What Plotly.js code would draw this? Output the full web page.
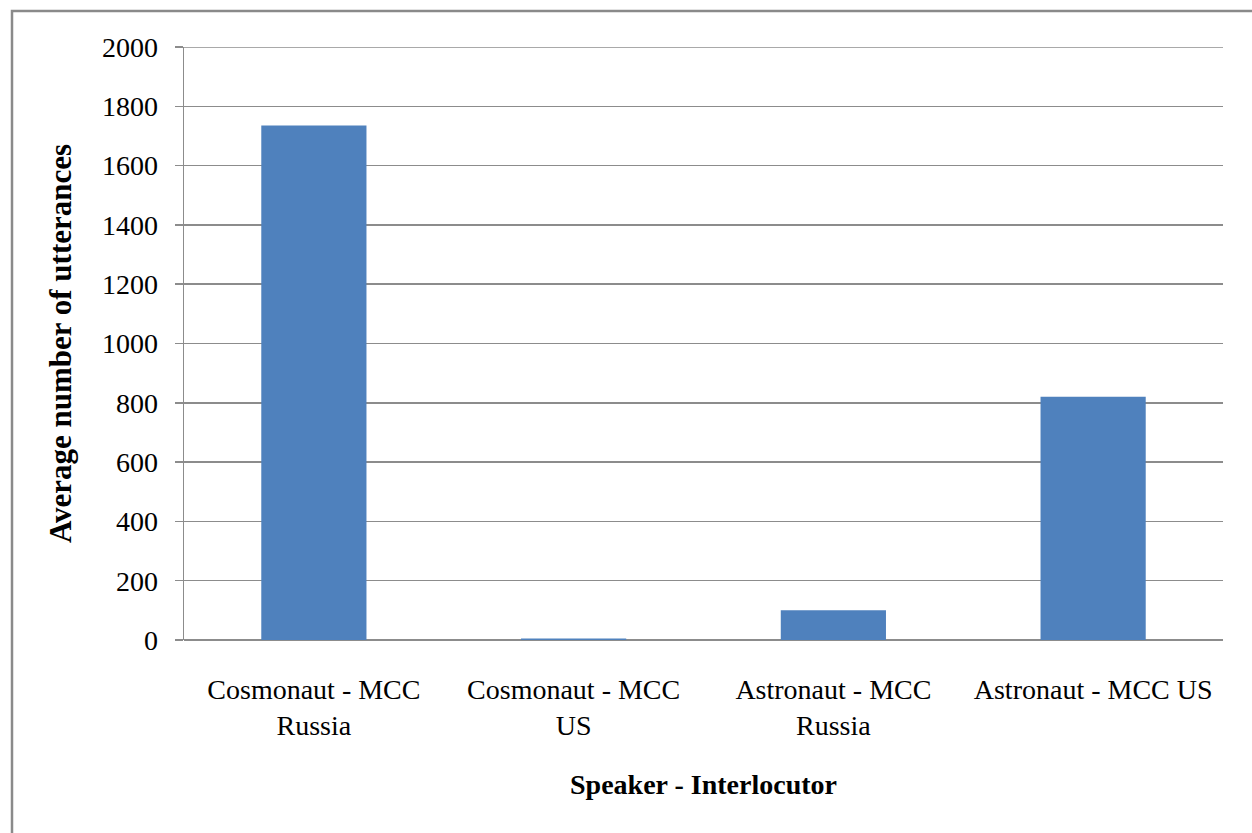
<!DOCTYPE html>
<html>
<head>
<meta charset="utf-8">
<script src="https://cdn.plot.ly/plotly-3.0.1.min.js"></script>
<style>
  html, body { margin: 0; padding: 0; background: #ffffff; }
  #chart { width: 1252px; height: 833px; }
</style>
</head>
<body>
<div id="chart"></div>
<script>
// Speaker–interlocutor pairs and their average utterance counts
const categories = [
  "Cosmonaut - MCC<br>Russia",
  "Cosmonaut - MCC<br>US",
  "Astronaut - MCC<br>Russia",
  "Astronaut - MCC US"
];
const utterances = [1735, 5, 100, 820];
const yTicks = [0, 200, 400, 600, 800, 1000, 1200, 1400, 1600, 1800, 2000];

const serif = "Liberation Serif, Times New Roman, serif";
const gridGrey = "#8c8c8c";

const trace = {
  type: "bar",
  x: categories,
  y: utterances,
  marker: { color: "#4F81BD", line: { width: 0 } },
  width: 0.405,
  hoverinfo: "x+y"
};

const layout = {
  width: 1252,
  height: 833,
  paper_bgcolor: "#ffffff",
  plot_bgcolor: "#ffffff",
  margin: { l: 184, r: 29, t: 47, b: 193 },
  showlegend: false,
  font: { family: serif, color: "#000000", size: 28 },
  xaxis: {
    type: "category",
    showgrid: false,
    showline: false,
    ticks: "",
    tickfont: { family: serif, size: 28, color: "#000000" },
    ticklabelstandoff: 30,
    title: {
      text: "<b>Speaker - Interlocutor</b>",
      font: { family: serif, size: 28, color: "#000000" },
      standoff: 33
    }
  },
  yaxis: {
    range: [0, 2000],
    tickvals: yTicks,
    ticktext: yTicks.map(String),
    showgrid: true,
    gridcolor: gridGrey,
    gridwidth: 1.5,
    zeroline: true,
    zerolinecolor: gridGrey,
    zerolinewidth: 1.5,
    showline: true,
    linecolor: gridGrey,
    linewidth: 1.5,
    ticks: "outside",
    ticklen: 8,
    tickcolor: gridGrey,
    tickwidth: 1.5,
    tickfont: { family: serif, size: 28, color: "#000000" },
    ticklabelstandoff: 11,
    title: {
      text: "<b>Average number of utterances</b>",
      font: { family: serif, size: 31, color: "#000000" },
      standoff: 21
    }
  },
  shapes: [
    {
      // top gridline at the end of the value range
      type: "line",
      xref: "paper", yref: "y",
      x0: 0, x1: 1, y0: 2000, y1: 2000,
      line: { color: gridGrey, width: 1.5 },
      layer: "below"
    },
    {
      // outer frame around the whole chart area
      type: "rect",
      xref: "paper", yref: "paper",
      x0: (12 - 184) / 1039, x1: (1262 - 184) / 1039,
      y0: (640 - 845) / 593, y1: 1 + (47 - 11) / 593,
      line: { color: "#8a8a8a", width: 2.5 },
      fillcolor: "rgba(0,0,0,0)",
      layer: "below"
    }
  ]
};

Plotly.newPlot("chart", [trace], layout, { displayModeBar: false, staticPlot: true });
</script>
</body>
</html>
